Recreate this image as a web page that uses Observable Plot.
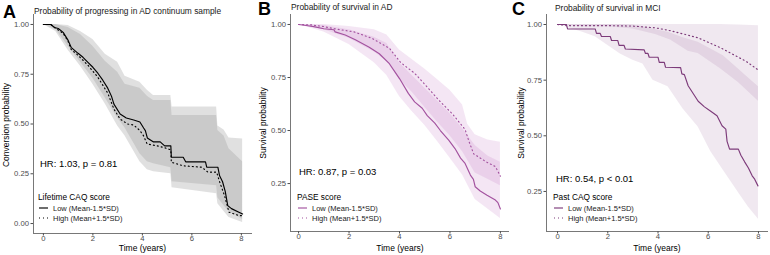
<!DOCTYPE html>
<html><head><meta charset="utf-8">
<script src="https://cdn.jsdelivr.net/npm/d3@7"></script>
<script src="https://cdn.jsdelivr.net/npm/@observablehq/plot@0.6"></script>
<style>
html,body{margin:0;padding:0;background:#fff;}
#wrap{position:relative;width:770px;height:255px;overflow:hidden;font-family:"Liberation Sans",Arial,sans-serif;}
.pl{position:absolute;top:0;}
#ov{position:absolute;left:0;top:0;}
</style></head><body><div id="wrap"></div>
<script>
// ---------- tick labels ----------
const xTicks = [0, 2, 4, 6, 8];
const yTicksA = [0, 0.25, 0.5, 0.75, 1];
const yTicksBC = [0.25, 0.5, 0.75, 1];

// ---------- Panel A: progression (time, probability) ----------
const aLow = [[0,1],[0.3,1],[0.45,0.985],[0.6,0.98],[0.8,0.96],[0.95,0.93],[1.0,0.92],[1.12,0.885],[1.4,0.855],[1.6,0.835],[1.8,0.81],[2.0,0.785],[2.2,0.755],[2.4,0.72],[2.6,0.68],[2.75,0.64],[2.85,0.60],[3.1,0.55],[3.35,0.53],[3.65,0.52],[3.9,0.51],[4.05,0.48],[4.12,0.467],[4.2,0.43],[4.45,0.41],[4.72,0.41],[4.9,0.39],[5.15,0.39],[5.17,0.333],[5.65,0.333],[5.75,0.31],[6.55,0.31],[6.6,0.283],[7.05,0.283],[7.12,0.24],[7.24,0.21],[7.35,0.16],[7.45,0.09],[7.6,0.075],[7.9,0.057],[8.05,0.048]];
const aHigh = [[0,1],[0.3,1],[0.45,0.985],[0.8,0.955],[1.0,0.915],[1.12,0.875],[1.4,0.845],[1.8,0.795],[2.2,0.735],[2.6,0.655],[2.85,0.575],[3.1,0.525],[3.4,0.50],[3.65,0.495],[3.9,0.467],[4.05,0.44],[4.19,0.40],[4.6,0.39],[4.92,0.38],[5.15,0.37],[5.17,0.308],[5.65,0.29],[6.4,0.283],[6.65,0.258],[7.0,0.258],[7.12,0.21],[7.32,0.14],[7.5,0.057],[7.9,0.04],[8.05,0.04]];
// [time, lower, upper]
const aLowCI = [[0,1,1],[0.5,0.975,1],[1.0,0.89,0.995],[1.5,0.81,0.965],[2.0,0.73,0.925],[2.5,0.63,0.85],[3.0,0.53,0.81],[3.3,0.48,0.74],[3.9,0.35,0.71],[4.2,0.31,0.67],[4.45,0.30,0.643],[5.15,0.28,0.643],[5.2,0.21,0.585],[7.0,0.19,0.585],[7.05,0.13,0.49],[7.3,0.09,0.47],[7.5,0.06,0.43],[8.05,0.02,0.425]];
const aHighCI = [[0,1,1],[0.5,0.965,1],[1.0,0.87,0.985],[1.5,0.79,0.95],[2.0,0.70,0.89],[2.5,0.60,0.815],[3.0,0.49,0.76],[3.3,0.44,0.70],[3.9,0.31,0.68],[4.2,0.27,0.64],[4.45,0.26,0.618],[5.15,0.25,0.618],[5.2,0.18,0.543],[7.0,0.15,0.543],[7.05,0.10,0.467],[7.3,0.06,0.44],[7.5,0.03,0.376],[8.05,0.005,0.31]];

// ---------- Panel B: survival in AD ----------
const bLow = [[0,1],[0.3,0.995],[0.6,0.99],[1.0,0.98],[1.4,0.975],[1.45,0.965],[1.85,0.95],[2.25,0.928],[2.8,0.893],[3.2,0.862],[3.6,0.815],[4.0,0.745],[4.35,0.675],[4.6,0.635],[4.9,0.605],[5.1,0.57],[5.4,0.535],[5.62,0.50],[5.95,0.455],[6.2,0.415],[6.42,0.37],[6.6,0.345],[6.81,0.29],[6.93,0.27],[7.0,0.235],[7.2,0.215],[7.47,0.195],[7.8,0.172],[7.9,0.16],[8.0,0.13]];
const bHigh = [[0,1],[0.5,0.998],[1.0,0.99],[1.5,0.978],[2.2,0.965],[2.9,0.935],[3.6,0.888],[4.05,0.82],[4.6,0.77],[5.1,0.705],[5.6,0.638],[6.1,0.578],[6.6,0.505],[6.75,0.45],[6.94,0.39],[7.2,0.37],[7.47,0.35],[7.8,0.33],[8.0,0.285]];
const bLowCI = [[0,1,1],[1,0.965,0.995],[2,0.905,0.975],[3,0.82,0.94],[3.5,0.76,0.91],[4.0,0.66,0.82],[4.5,0.59,0.76],[5.0,0.525,0.70],[5.5,0.45,0.64],[6.0,0.37,0.58],[6.5,0.29,0.51],[7.0,0.175,0.43],[7.5,0.13,0.38],[8.0,0.085,0.35]];
const bHighCI = [[0,1,1],[1,0.975,1],[2,0.935,0.99],[3,0.87,0.975],[3.5,0.825,0.95],[4.0,0.74,0.88],[4.5,0.68,0.835],[5.0,0.61,0.79],[5.5,0.54,0.74],[6.0,0.475,0.69],[6.5,0.40,0.62],[6.7,0.36,0.53],[7.0,0.30,0.48],[7.5,0.27,0.455],[8.0,0.24,0.445]];

// ---------- Panel C: survival in MCI ----------
const cLow = [[0,1],[0.35,1],[0.4,0.98],[1.5,0.98],[1.55,0.96],[1.7,0.96],[1.75,0.946],[2.1,0.946],[2.15,0.928],[2.4,0.928],[2.45,0.906],[2.65,0.906],[2.7,0.89],[3.45,0.886],[3.5,0.87],[3.6,0.87],[3.65,0.853],[4.0,0.853],[4.05,0.83],[4.25,0.83],[4.3,0.808],[4.9,0.806],[4.95,0.778],[5.05,0.775],[5.2,0.725],[5.4,0.69],[5.6,0.655],[5.85,0.63],[6.1,0.61],[6.35,0.59],[6.55,0.545],[6.7,0.53],[6.75,0.475],[6.85,0.44],[7.2,0.44],[7.3,0.413],[7.45,0.383],[7.6,0.355],[7.75,0.32],[7.85,0.305],[7.98,0.275]];
const cHigh = [[0,1],[0.5,0.995],[2,0.995],[3,0.993],[3.9,0.985],[4.5,0.972],[5.1,0.955],[5.6,0.94],[6.0,0.92],[6.5,0.895],[7.0,0.865],[7.5,0.835],[8.0,0.795]];
const cLowCI = [[0,1,1],[1,0.965,1],[1.5,0.945,1],[2.5,0.868,1],[3.0,0.84,0.998],[3.4,0.823,0.99],[3.8,0.75,0.98],[4.4,0.72,0.965],[5.0,0.62,0.94],[5.6,0.54,0.92],[6.1,0.43,0.89],[6.6,0.345,0.86],[7.2,0.245,0.80],[7.6,0.18,0.76],[8.0,0.125,0.72]];
const cHighCI = [[0,1,1],[1,0.99,1],[2,0.99,1],[3,0.98,1],[3.9,0.955,1],[4.5,0.93,1],[5.2,0.88,1],[5.6,0.87,1],[6.5,0.80,1],[7.2,0.74,0.998],[8.0,0.655,0.995]];

// ---------- texts ----------
const letters = ["A", "B", "C"];
const titles = ["Probability of progressing in AD continuum sample", "Probability of survival in AD", "Probability of survival in MCI"];
const yTitles = ["Conversion probability", "Survival probability", "Survival probability"];
const xTitle = "Time (years)";
const hrTexts = ["HR: 1.03, p = 0.81", "HR: 0.87, p = 0.03", "HR: 0.54, p < 0.01"];
const legendTitles = ["Lifetime CAQ score", "PASE score", "Past CAQ score"];
const legendLabels = ["Low (Mean-1.5*SD)", "High (Mean+1.5*SD)"];

const FONT = '"Liberation Sans", Arial, Helvetica, sans-serif';
const DOTS = "1,3";
const wrap = document.getElementById("wrap");

function panel(o) {
  const p = Plot.plot({
    width: o.width, height: 255,
    marginLeft: o.ml, marginRight: o.mr, marginTop: 14, marginBottom: o.mb,
    x: {domain: o.xd}, y: {domain: o.yd},
    style: {fontFamily: FONT, fontSize: "7.7px", background: "transparent", color: "#4d4d4d"},
    marks: [
      Plot.areaY(o.lowCI, {x: d => d[0], y1: d => d[1], y2: d => d[2], fill: o.band, fillOpacity: o.bandOp}),
      Plot.areaY(o.highCI, {x: d => d[0], y1: d => d[1], y2: d => d[2], fill: o.band, fillOpacity: o.bandOp}),
      Plot.line(o.low, {x: d => d[0], y: d => d[1], stroke: o.col, strokeWidth: 1.15}),
      Plot.line(o.high, {x: d => d[0], y: d => d[1], stroke: o.col, strokeWidth: 1.15, strokeDasharray: DOTS}),
      Plot.axisX({ticks: xTicks, tickSize: 2.5, tickPadding: 0, tickFormat: d => String(d), label: null, color: "#4d4d4d", fontSize: 7.7}),
      Plot.axisY({ticks: o.yt, tickSize: 2.5, tickPadding: 2, tickFormat: d3.format(".2f"), label: null, color: "#4d4d4d", fontSize: 7.7}),
      Plot.ruleX([o.xd[0]], {stroke: "#555", strokeWidth: 0.8}),
      Plot.ruleY([o.yd[0]], {stroke: "#555", strokeWidth: 0.8})
    ]
  });
  p.classList.add("pl");
  p.style.left = o.left + "px";
  wrap.appendChild(p);
}

panel({left: 0, width: 256, ml: 33, mr: 4, mb: 22, xd: [-0.4, 8.45], yd: [-0.05, 1.05], yt: yTicksA,
  low: aLow, high: aHigh, lowCI: aLowCI, highCI: aHighCI, col: "#000000", band: "#999999", bandOp: 0.3});
panel({left: 256, width: 256, ml: 34, mr: 3, mb: 24, xd: [-0.32, 8.36], yd: [0.024, 1.047], yt: yTicksBC,
  low: bLow, high: bHigh, lowCI: bLowCI, highCI: bHighCI, col: "#a3529f", band: "#b658b6", bandOp: 0.15});
panel({left: 512, width: 258, ml: 34, mr: 2, mb: 24, xd: [-0.44, 8.4], yd: [0.07, 1.045], yt: yTicksBC,
  low: cLow, high: cHigh, lowCI: cLowCI, highCI: cHighCI, col: "#7d3b7a", band: "#945b94", bandOp: 0.14});

// ---------- overlay annotations ----------
const lay = [
  {lx: 3, ly: 18, tx: 34, ty: 14, yx: 6, yy: 125, xx: 142.5, hx: 40, hy: 167, gx: 39, col: "#000000"},
  {lx: 258, ly: 15, tx: 291, ty: 10, yx: 263, yy: 123, xx: 400, hx: 299, hy: 175, gx: 298, col: "#a3529f"},
  {lx: 512, ly: 15, tx: 555, ty: 11, yx: 521, yy: 123, xx: 657, hx: 556, hy: 182, gx: 554, col: "#7d3b7a"}
];
let s = `<svg id="ov" width="770" height="255" xmlns="http://www.w3.org/2000/svg" font-family='${FONT}'>`;
lay.forEach((L, i) => {
  s += `<text x="${L.lx}" y="${L.ly}" font-size="18" font-weight="bold" fill="#000">${letters[i]}</text>`;
  s += `<text x="${L.tx}" y="${L.ty}" font-size="8.4" fill="#1a1a1a">${titles[i]}</text>`;
  s += `<text transform="translate(${L.yx},${L.yy}) rotate(-90)" text-anchor="middle" dy="0.35em" font-size="8.5" fill="#000">${yTitles[i]}</text>`;
  s += `<text x="${L.xx}" y="250.5" text-anchor="middle" font-size="8.5" fill="#000">${xTitle}</text>`;
  s += `<text x="${L.hx}" y="${L.hy}" font-size="9.5" fill="#000">${hrTexts[i]}</text>`;
  s += `<text x="${L.gx - 1}" y="199.5" font-size="8.3" fill="#000">${legendTitles[i]}</text>`;
  s += `<line x1="${L.gx}" x2="${L.gx + 9}" y1="208" y2="208" stroke="${L.col}" stroke-width="1.15"/>`;
  s += `<line x1="${L.gx}" x2="${L.gx + 9}" y1="218" y2="218" stroke="${L.col}" stroke-width="1.15" stroke-dasharray="${DOTS}"/>`;
  s += `<text x="${L.gx + 14}" y="210.7" font-size="7.5" fill="#1a1a1a">${legendLabels[0]}</text>`;
  s += `<text x="${L.gx + 14}" y="220.7" font-size="7.5" fill="#1a1a1a">${legendLabels[1]}</text>`;
});
s += `</svg>`;
wrap.insertAdjacentHTML("beforeend", s);
</script>
</body></html>
